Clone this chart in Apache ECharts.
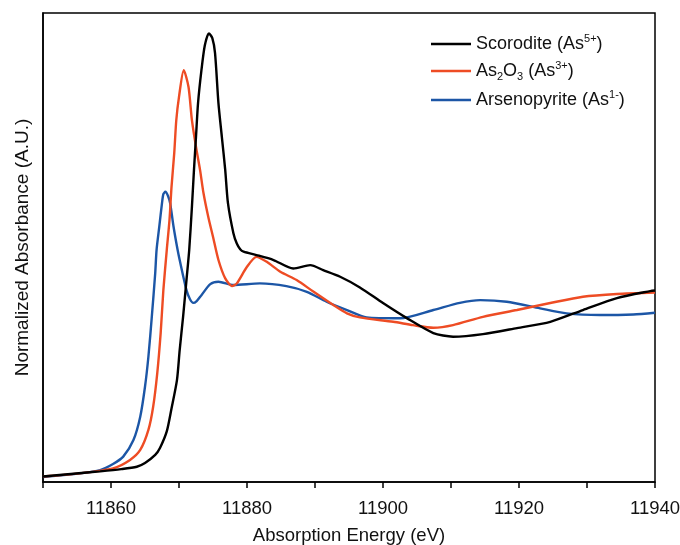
<!DOCTYPE html>
<html>
<head>
<meta charset="utf-8">
<script src="https://cdn.jsdelivr.net/npm/echarts@6/dist/echarts.min.js"></script>
<style>html,body{margin:0;padding:0;background:#fff;}#c{width:680px;height:545px;}</style>
</head>
<body>
<div id="c"></div>
<script>
// ---- data (energy in eV, normalized absorbance) ----
var seriesNames = ['Scorodite (As5+)', 'As2O3 (As3+)', 'Arsenopyrite (As1-)'];
var legendLabels = [
  '{n|Scorodite (As}{sup|5+}{n|)}',
  '{n|As}{sub|2}{n|O}{sub|3}{n| (As}{sup|3+}{n|)}',
  '{n|Arsenopyrite (As}{sup|1-}{n|)}'
];
var xTicks = [11860, 11880, 11900, 11920, 11940];

var energyScorodite = [11850, 11854.5, 11858.4, 11861.5, 11863.8, 11865.0, 11866.5, 11867.2, 11868.2, 11868.9, 11869.7, 11870.1, 11870.6, 11871.1, 11871.5, 11871.9, 11872.2, 11872.5, 11872.8, 11873.3, 11873.8, 11874.4, 11874.9, 11875.3, 11875.8, 11876.3, 11876.8, 11877.2, 11878.0, 11878.5, 11879.0, 11879.5, 11881.4, 11883.9, 11886.8, 11889.3, 11891.2, 11893.7, 11896.6, 11900.0, 11903.5, 11907.4, 11910.3, 11914.7, 11919.7, 11924.6, 11929.4, 11934.4, 11939.3, 11940];
var absScorodite    = [0.030, 0.045, 0.058, 0.070, 0.083, 0.103, 0.147, 0.185, 0.275, 0.400, 0.554, 0.717, 0.898, 1.098, 1.261, 1.496, 1.696, 1.877, 2.060, 2.239, 2.375, 2.439, 2.413, 2.332, 2.060, 1.877, 1.696, 1.516, 1.353, 1.297, 1.266, 1.252, 1.234, 1.207, 1.161, 1.179, 1.152, 1.116, 1.058, 0.973, 0.891, 0.810, 0.790, 0.804, 0.837, 0.871, 0.935, 1.000, 1.038, 1.041];

var energyAs2O3 = [11850, 11855.4, 11860.3, 11862.8, 11864.3, 11865.5, 11866.2, 11866.8, 11867.3, 11867.7, 11868.2, 11868.6, 11868.9, 11869.3, 11869.6, 11870.0, 11870.7, 11871.4, 11871.9, 11872.5, 11873.1, 11873.6, 11874.3, 11875.0, 11875.8, 11876.8, 11877.8, 11878.5, 11880.0, 11881.4, 11882.9, 11884.9, 11887.3, 11889.8, 11892.7, 11894.7, 11896.6, 11901.5, 11904.4, 11907.4, 11910.3, 11914.7, 11919.7, 11924.6, 11929.4, 11934.4, 11940];
var absAs2O3    = [0.030, 0.047, 0.074, 0.120, 0.174, 0.283, 0.409, 0.591, 0.808, 1.043, 1.261, 1.424, 1.605, 1.788, 1.967, 2.094, 2.239, 2.148, 1.967, 1.822, 1.696, 1.571, 1.442, 1.333, 1.207, 1.107, 1.065, 1.080, 1.170, 1.224, 1.197, 1.143, 1.098, 1.034, 0.962, 0.917, 0.895, 0.871, 0.853, 0.839, 0.853, 0.898, 0.935, 0.973, 1.007, 1.022, 1.030];

var energyArsenopyrite = [11850, 11855.4, 11858.4, 11860.3, 11861.8, 11863.3, 11864.3, 11865.0, 11865.5, 11866.0, 11866.5, 11866.7, 11867.1, 11867.5, 11867.7, 11868.0, 11868.4, 11868.7, 11869.2, 11869.8, 11870.1, 11871.1, 11871.6, 11872.1, 11872.6, 11873.3, 11874.6, 11875.8, 11878.0, 11881.9, 11885.8, 11888.8, 11891.7, 11894.7, 11897.6, 11902.5, 11907.4, 11911.3, 11914.3, 11918.2, 11923.1, 11927.0, 11931.9, 11936.8, 11940];
var absArsenopyrite    = [0.027, 0.047, 0.065, 0.098, 0.138, 0.228, 0.355, 0.518, 0.681, 0.898, 1.134, 1.261, 1.388, 1.516, 1.565, 1.578, 1.554, 1.516, 1.388, 1.261, 1.207, 1.043, 0.995, 0.974, 0.984, 1.016, 1.076, 1.089, 1.071, 1.080, 1.065, 1.034, 0.980, 0.935, 0.895, 0.890, 0.935, 0.974, 0.989, 0.980, 0.944, 0.917, 0.908, 0.911, 0.920];

var colors = ['#000000', '#ee4c24', '#1c56a6'];

function zip(xs, ys) { return xs.map(function (x, i) { return [x, ys[i]]; }); }

var FONT = 'Liberation Sans, Arial, sans-serif';
var chart = echarts.init(document.getElementById('c'), null, {renderer: 'canvas'});
var dataSets = [zip(energyScorodite, absScorodite), zip(energyAs2O3, absAs2O3), zip(energyArsenopyrite, absArsenopyrite)];

chart.setOption({
  backgroundColor: '#ffffff',
  animation: false,
  grid: {left: 43, right: 25, top: 13, bottom: 63, show: true, borderColor: '#000', borderWidth: 1.5, backgroundColor: 'transparent', containLabel: false, outerBoundsMode: 'none'},
  legend: {
    orient: 'vertical', left: 426, top: 28, itemWidth: 40, itemHeight: 2.5, itemGap: 7, icon: 'rect',
    data: seriesNames,
    formatter: function (name) { return legendLabels[seriesNames.indexOf(name)]; },
    textStyle: {
      rich: {
        n: {fontSize: 18, fontFamily: FONT, color: '#111', lineHeight: 22},
        sup: {fontSize: 11, fontFamily: FONT, color: '#111', lineHeight: 12, verticalAlign: 'top'},
        sub: {fontSize: 11, fontFamily: FONT, color: '#111', lineHeight: 12, verticalAlign: 'bottom'}
      }
    }
  },
  xAxis: {
    type: 'value', min: 11850, max: 11940, interval: 10,
    name: 'Absorption Energy (eV)', nameLocation: 'middle', nameGap: 44,
    nameTextStyle: {fontSize: 18.5, fontFamily: FONT, color: '#111'},
    axisLine: {show: true, lineStyle: {color: '#000', width: 1.5}},
    axisTick: {show: true, inside: false, length: 6, lineStyle: {color: '#000', width: 1.5}},
    axisLabel: {
      fontSize: 18.5, fontFamily: FONT, color: '#111', margin: 17, showMinLabel: true, showMaxLabel: true, hideOverlap: false,
      formatter: function (v) { return xTicks.indexOf(v) >= 0 ? String(v) : ''; }
    },
    splitLine: {show: false}
  },
  yAxis: {
    type: 'value', min: 0, max: 2.55,
    name: 'Normalized Absorbance (A.U.)', nameLocation: 'middle', nameGap: 11,
    nameTextStyle: {fontSize: 19, fontFamily: FONT, color: '#111'},
    axisLine: {show: true, lineStyle: {color: '#000', width: 1.5}},
    axisTick: {show: false}, axisLabel: {show: false}, splitLine: {show: false}
  },
  series: seriesNames.map(function (nm, i) {
    return {
      name: nm, type: 'line', data: dataSets[i], showSymbol: false, symbol: 'none',
      smooth: 0.25, lineStyle: {color: colors[i], width: 2.4}, itemStyle: {color: colors[i]}, z: 3 - i
    };
  })
});
</script>
</body>
</html>
